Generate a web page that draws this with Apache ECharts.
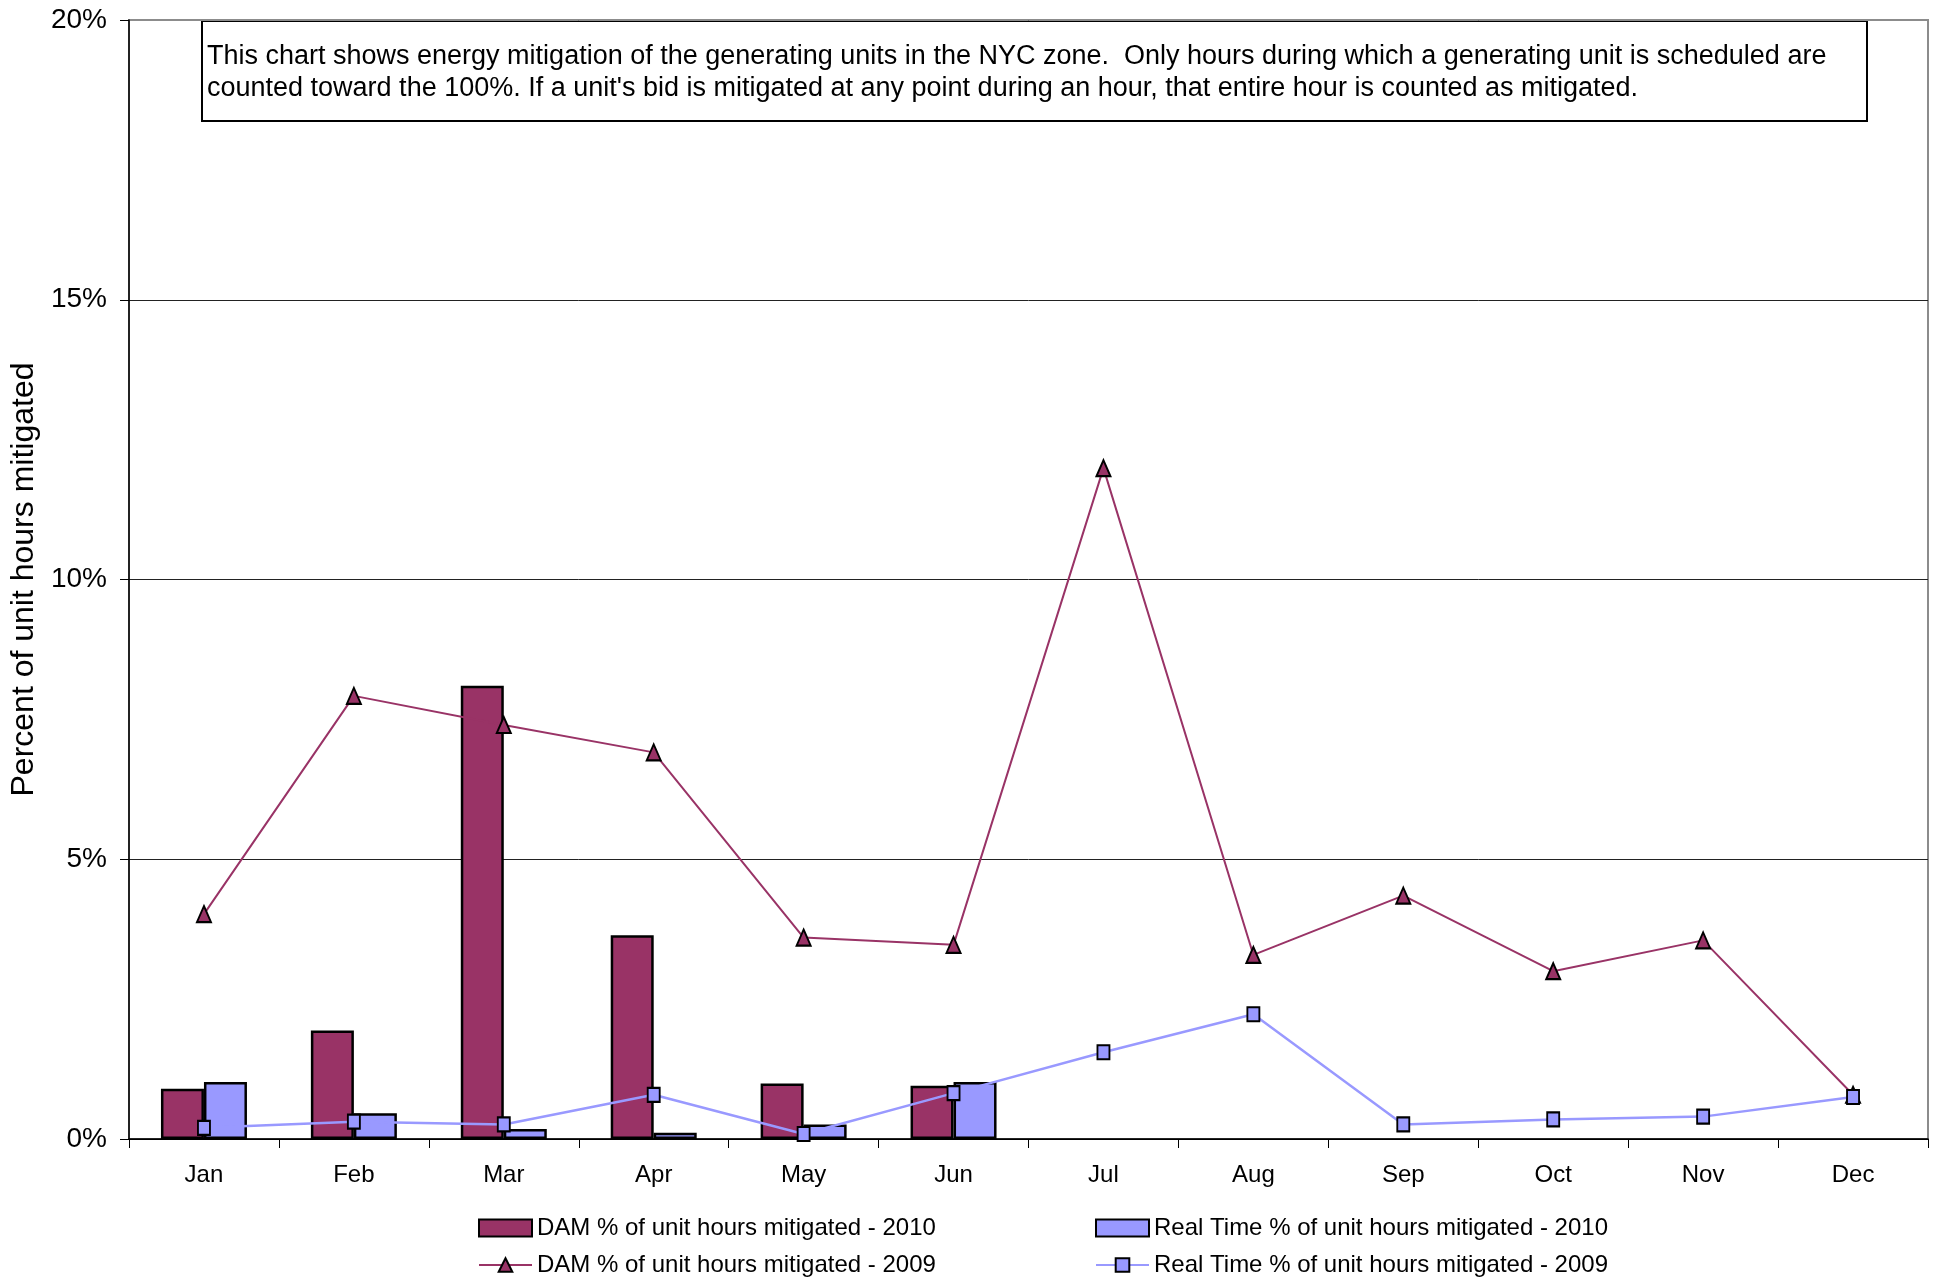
<!DOCTYPE html>
<html>
<head>
<meta charset="utf-8">
<script src="https://cdn.jsdelivr.net/npm/echarts@6/dist/echarts.min.js"></script>
<style>
  html, body { margin: 0; padding: 0; background: #fff; }
  #chart { width: 1935px; height: 1280px; }
</style>
</head>
<body>
<div id="chart"></div>
<script>
// categories
const months = ['Jan', 'Feb', 'Mar', 'Apr', 'May', 'Jun', 'Jul', 'Aug', 'Sep', 'Oct', 'Nov', 'Dec']

// values in percent
const dam2010 = [0.90, 1.94, 8.10, 3.64, 0.99, 0.95, null, null, null, null, null, null]
const rt2010 = [1.02, 0.46, 0.18, 0.11, 0.26, 1.02, null, null, null, null, null, null]
const dam2009 = [4.02, 7.92, 7.40, 6.91, 3.60, 3.47, 11.99, 3.29, 4.35, 3.00, 3.55, 0.79]
const rt2009 = [0.20, 0.31, 0.26, 0.79, 0.09, 0.82, 1.55, 2.23, 0.26, 0.35, 0.40, 0.75]

const seriesNames = [
  'DAM % of unit hours mitigated - 2010',
  'Real Time % of unit hours mitigated - 2010',
  'DAM % of unit hours mitigated - 2009',
  'Real Time % of unit hours mitigated - 2009'
]

const noteLines = [
  'This chart shows energy mitigation of the generating units in the NYC zone.  Only hours during which a generating unit is scheduled are',
  "counted toward the 100%. If a unit's bid is mitigated at any point during an hour, that entire hour is counted as mitigated."
]

const FONT = '"Liberation Sans", Arial, sans-serif'
const DAM_COLOR = '#993366'
const RT_COLOR = '#9999ff'

// one legend box per entry, laid out as two columns of two rows
const legendSpots = [
  { name: seriesNames[0], left: 478, top: 1216, icon: 'rect' },
  { name: seriesNames[2], left: 478, top: 1253 },
  { name: seriesNames[1], left: 1095, top: 1216, icon: 'rect' },
  { name: seriesNames[3], left: 1095, top: 1253 }
]

const chart = echarts.init(document.getElementById('chart'))

const option = {
  animation: false,
  textStyle: { fontFamily: FONT, color: '#000' },
  grid: {
    left: 129,
    right: 7,
    top: 20,
    bottom: 141,
    show: true,
    borderColor: '#8c8c8c',
    borderWidth: 2,
    backgroundColor: '#fff'
  },
  xAxis: {
    type: 'category',
    data: months,
    boundaryGap: true,
    axisLine: { show: true, lineStyle: { color: '#000', width: 1.5 } },
    axisTick: { show: true, length: 9, lineStyle: { color: '#000' } },
    axisLabel: { fontSize: 24, color: '#000', margin: 24, fontFamily: FONT },
    splitLine: { show: false }
  },
  yAxis: {
    type: 'value',
    min: 0,
    max: 20,
    interval: 5,
    name: 'Percent of unit hours mitigated',
    nameLocation: 'middle',
    nameRotate: 90,
    nameGap: 86,
    nameTextStyle: { fontSize: 32, color: '#000', fontFamily: FONT },
    axisLine: { show: true, lineStyle: { color: '#000', width: 1.5 } },
    axisTick: { show: true, length: 9, lineStyle: { color: '#000' } },
    axisLabel: { fontSize: 28, color: '#000', margin: 22, formatter: '{value}%', fontFamily: FONT },
    splitLine: { show: true, lineStyle: { color: ['#000', '#222', '#222', '#222', '#8c8c8c'], width: 1 } }
  },
  legend: legendSpots.map(s => ({
    left: s.left,
    top: s.top,
    itemWidth: 53,
    itemHeight: 17,
    itemGap: 0,
    padding: 0,
    textStyle: { fontSize: 24, color: '#000', fontFamily: FONT },
    data: [s.icon ? { name: s.name, icon: s.icon } : s.name]
  })),
  graphic: [
    {
      type: 'group',
      left: 201,
      top: 20,
      z: 100,
      children: [
        {
          type: 'rect',
          shape: { x: 0, y: 0, width: 1665, height: 100 },
          style: { fill: '#fff', stroke: '#000', lineWidth: 2 }
        },
        {
          type: 'text',
          x: 5,
          y: 20,
          style: {
            text: noteLines.join('\n'),
            font: '27px ' + FONT,
            fill: '#000',
            lineHeight: 32
          }
        }
      ]
    }
  ],
  series: [
    {
      name: seriesNames[0],
      type: 'bar',
      data: dam2010,
      barWidth: 43,
      barGap: '0%',
      itemStyle: { color: DAM_COLOR, borderColor: '#000', borderWidth: 2.5 }
    },
    {
      name: seriesNames[1],
      type: 'bar',
      data: rt2010,
      barWidth: 43,
      barGap: '0%',
      itemStyle: { color: RT_COLOR, borderColor: '#000', borderWidth: 2.5 }
    },
    {
      name: seriesNames[2],
      type: 'line',
      data: dam2009,
      symbol: 'triangle',
      symbolSize: [14, 16],
      showAllSymbol: true,
      lineStyle: { color: DAM_COLOR, width: 2 },
      itemStyle: { color: DAM_COLOR, borderColor: '#000', borderWidth: 2 },
      z: 3
    },
    {
      name: seriesNames[3],
      type: 'line',
      data: rt2009,
      symbol: 'rect',
      symbolSize: [12, 14],
      showAllSymbol: true,
      lineStyle: { color: RT_COLOR, width: 2.5 },
      itemStyle: { color: RT_COLOR, borderColor: '#000', borderWidth: 2 },
      z: 4
    }
  ]
}

chart.setOption(option)
</script>
</body>
</html>
